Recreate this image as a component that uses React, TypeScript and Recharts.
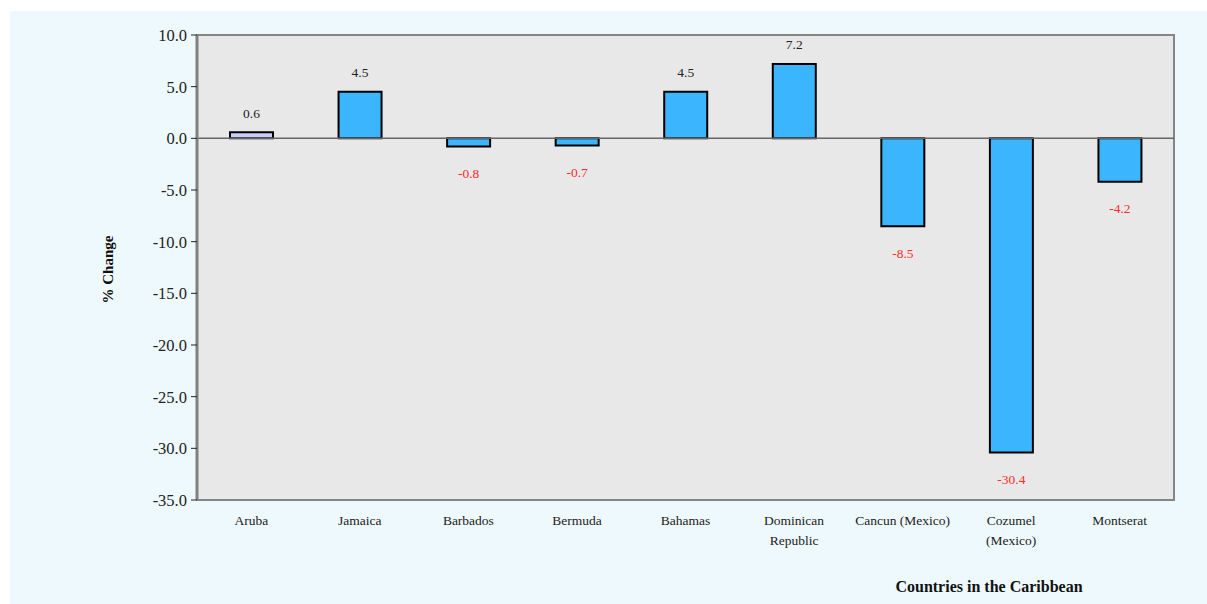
import { BarChart, Bar, XAxis, YAxis, Cell, LabelList, ReferenceArea, ReferenceLine, Label } from "recharts";

const countries = [
  "Aruba",
  "Jamaica",
  "Barbados",
  "Bermuda",
  "Bahamas",
  "Dominican\nRepublic",
  "Cancun (Mexico)",
  "Cozumel\n(Mexico)",
  "Montserat",
];
const pctChange = [0.6, 4.5, -0.8, -0.7, 4.5, 7.2, -8.5, -30.4, -4.2];
const yTicks = [10, 5, 0, -5, -10, -15, -20, -25, -30, -35];

const highlighted = "Aruba";
const FONT = "'Liberation Serif', 'Times New Roman', serif";

const data = countries.map((c, i) => ({ country: c, value: pctChange[i] }));

function CountryTick(props: any) {
  const { x, y, payload } = props;
  const lines = String(payload.value).split("\n");
  return (
    <text x={x} y={y} textAnchor="middle" fontFamily={FONT} fontSize={13.5} fill="#222">
      {lines.map((l, i) => (
        <tspan key={i} x={x} dy={i === 0 ? 17 : 20}>{l}</tspan>
      ))}
    </text>
  );
}

function ValueLabel(props: any) {
  const { x, y, width, height, value } = props;
  const top = Math.min(y, y + height);
  const bottom = Math.max(y, y + height);
  const neg = value < 0;
  return (
    <text
      x={x + width / 2}
      y={neg ? bottom + 27 : top - 19}
      textAnchor="middle"
      dominantBaseline="central"
      fontFamily={FONT}
      fontSize={13.5}
      fill={neg ? "#ff2a2a" : "#222"}
    >
      {Number(value).toFixed(1)}
    </text>
  );
}

export default function App() {
  return (
    <div style={{ position: "absolute", left: 10, top: 11, width: 1197, height: 593, background: "#eef9fd" }}>
      <BarChart
        width={1197}
        height={593}
        data={data}
        margin={{ top: 24, right: 33, left: 0, bottom: 0 }}
        barCategoryGap="30%"
      >
        <ReferenceArea y1={-35} y2={10} fill="#e8e8e8" fillOpacity={1} stroke="#858585" strokeWidth={2} />
        <XAxis
          dataKey="country"
          height={104}
          tickLine={false}
          axisLine={{ stroke: "#858585", strokeWidth: 2 }}
          tick={<CountryTick />}
          interval={0}
        >
          <Label
            content={(p: any) => (
              <text
                x={p.viewBox.x + p.viewBox.width - 185}
                y={p.viewBox.y + 92}
                textAnchor="middle"
                fontFamily={FONT}
                fontSize={16}
                fontWeight="bold"
                fill="#111"
              >
                Countries in the Caribbean
              </text>
            )}
          />
        </XAxis>
        <YAxis
          width={187}
          domain={[-35, 10]}
          ticks={yTicks}
          interval={0}
          tickFormatter={(v) => Number(v).toFixed(1)}
          tick={{ fontFamily: FONT, fontSize: 16.5, fill: "#222" }}
          tickLine={{ stroke: "#222" }}
          tickSize={6}
          tickMargin={4}
          axisLine={{ stroke: "#808080", strokeWidth: 3 }}
        >
          <Label
            content={(p: any) => {
              const cx = 98;
              const cy = p.viewBox.y + p.viewBox.height / 2 + 2;
              return (
                <text
                  x={cx}
                  y={cy}
                  transform={`rotate(-90 ${cx} ${cy})`}
                  textAnchor="middle"
                  dominantBaseline="central"
                  fontFamily={FONT}
                  fontSize={15}
                  fontWeight="bold"
                  fill="#111"
                >
                  % Change
                </text>
              );
            }}
          />
        </YAxis>
        <ReferenceLine y={0} stroke="#666" strokeWidth={1.5} />
        <Bar dataKey="value" barSize={43} stroke="#000" strokeWidth={2} isAnimationActive={false}>
          {data.map((d) => (
            <Cell key={d.country} fill={d.country === highlighted ? "#ccccff" : "#3bb5fe"} />
          ))}
          <LabelList dataKey="value" content={<ValueLabel />} />
        </Bar>
      </BarChart>
    </div>
  );
}
